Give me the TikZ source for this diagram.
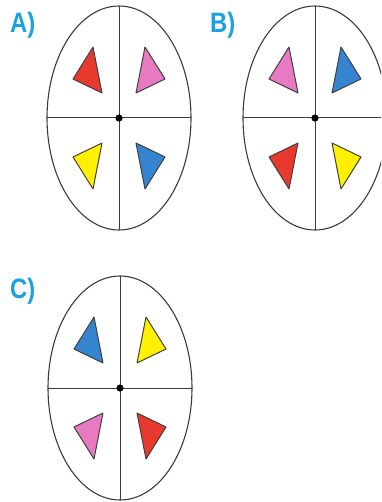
\documentclass[tikz,border=0pt]{standalone}
\usepackage{fontspec}
\setmainfont{Liberation Sans}
\definecolor{lab}{RGB}{27,161,226}
\definecolor{tred}{RGB}{232,57,46}
\definecolor{tpink}{RGB}{232,122,194}
\definecolor{tyel}{RGB}{255,240,0}
\definecolor{tblue}{RGB}{52,132,208}
\definecolor{rimc}{RGB}{60,60,60}
\tikzset{
  rim/.style={draw=rimc, line width=1.1pt},
  axis/.style={draw=rimc, line width=1pt},
  tri/.style={draw=black!75, line width=1pt, line join=round},
  lbl/.style={anchor=base west, text=lab, font=\bfseries\fontsize{28}{28}\selectfont, xscale=0.85, inner sep=0pt},
}
\newcommand\spinner[7]{%
  \begin{scope}[shift={(#2,#3)}]
    \draw[rim] (0,0) ellipse [x radius=72, y radius=112];
    \draw[axis] (-72,0) -- (72,0) (0,-112) -- (0,112);
    \fill[black] (0,0) circle (3.6);
    \coordinate (#1) at (0,0);
    \filldraw[tri, fill=#4] (-26,-71) -- (-46,-39) -- (-17,-25) -- cycle;
    \filldraw[tri, fill=#5, xscale=-1] (-26,-71) -- (-46,-39) -- (-17,-25) -- cycle;
    \filldraw[tri, fill=#6, yscale=-1] (-26,-71) -- (-46,-39) -- (-17,-25) -- cycle;
    \filldraw[tri, fill=#7, scale=-1] (-26,-71) -- (-46,-39) -- (-17,-25) -- cycle;
  \end{scope}}
\begin{document}
\begin{tikzpicture}[x=1pt, y=-1pt]
  \useasboundingbox (0,0) rectangle (381,502);
  \clip (0,0) rectangle (381,502);
  \fill[white] (0,0) rectangle (381,502);
  \spinner{sA}{119}{118}{tred}{tpink}{tyel}{tblue}
  \spinner{sB}{315}{118}{tpink}{tblue}{tred}{tyel}
  \spinner{sC}{120}{388}{tblue}{tyel}{tpink}{tred}
  \node[lbl] (lA) at (10,33) {A)};
  \node[lbl] (lB) at (210,33) {B)};
  \node[lbl] (lC) at (10,298) {C)};
\end{tikzpicture}
\end{document}
